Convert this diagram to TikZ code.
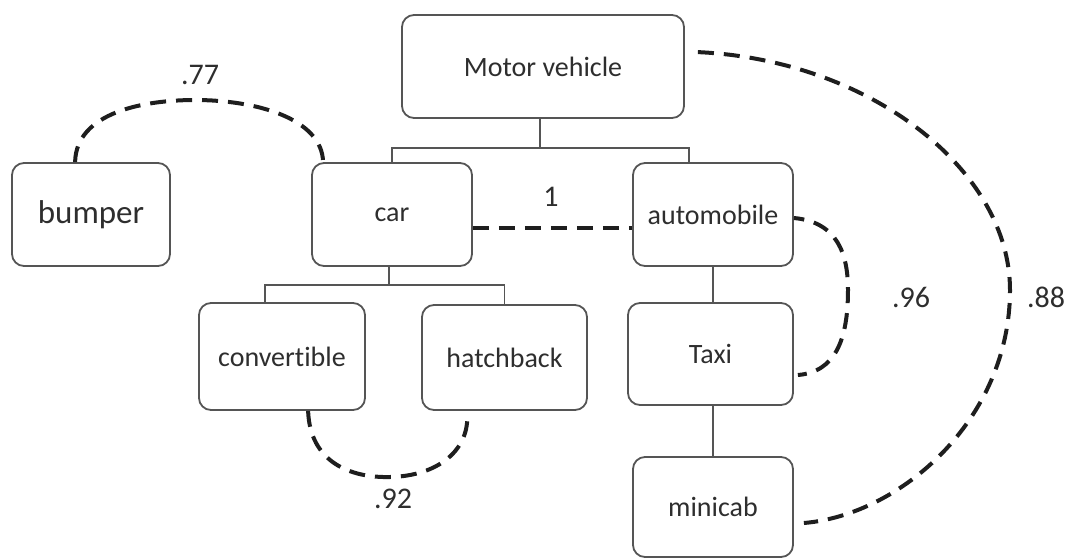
\documentclass[tikz,border=0pt]{standalone}
\usepackage{fontspec}
\setmainfont{Carlito}[Ligatures=NoCommon]
\usetikzlibrary{calc}
\definecolor{boxline}{HTML}{555555}
\definecolor{txt}{HTML}{2E2E2E}
\definecolor{simline}{HTML}{1E1E1E}
\begin{document}
\begin{tikzpicture}[x=1pt,y=-1pt,
  term/.style={draw=boxline, line width=1.8pt, rounded corners=12pt, inner sep=0pt,
    text=txt, font=\fontsize{28}{32}\selectfont},
  tree/.style={draw=boxline, line width=1.8pt},
  sim/.style={draw=simline, line width=4pt, dash pattern=on 16pt off 10pt},
  score/.style={text=txt, font=\fontsize{30}{34}\selectfont, inner sep=0pt}]
\useasboundingbox (0,0) rectangle (1071,558);

% concept boxes
\node[term, minimum width=282pt, minimum height=103pt] (mv) at (543,66.5) {Motor vehicle};
\node[term, minimum width=158pt, minimum height=103pt, font=\fontsize{33}{38}\selectfont] (bumper) at (91,214.5) {bumper};
\node[term, minimum width=160pt, minimum height=103pt] (car) at (392,214.5) {car};
\node[term, minimum width=160pt, minimum height=103pt] (auto) at (713,214.5) {automobile};
\node[term, minimum width=166pt, minimum height=107pt] (conv) at (282,356.5) {convertible};
\node[term, minimum width=165pt, minimum height=105pt] (hatch) at (504.5,357.5) {hatchback};
\node[term, minimum width=165pt, minimum height=102pt] (taxi) at (710.5,354) {Taxi};
\node[term, minimum width=160pt, minimum height=100pt] (minicab) at (713,507) {minicab};

% hierarchy
\coordinate (j1) at (540,148);
\coordinate (j2) at (389,285);
\draw[tree] (mv.south -| j1) -- (j1);
\draw[tree] (car.north) -- (car.north |- j1) -- ($(auto.north |- j1)+(-24,0)$) -- ($(auto.north)+(-24,0)$);
\draw[tree] (car.south -| j2) -- (j2);
\draw[tree] ($(conv.north)+(-17,0)$) -- ($(conv.north |- j2)+(-17,0)$) -- (hatch.north |- j2) -- (hatch.north);
\draw[tree] (auto.south) -- (auto.south |- taxi.north);
\draw[tree] (taxi.south -| minicab.north) -- (minicab.north);

% similarity links
\draw[sim] ($(bumper.north west)+(64,0)$) .. controls (76,112) and (145,100) .. (195,100)
  .. controls (255,100) and (322,118) .. ($(car.north west)+(12,0)$);
\draw[sim] ($(car.east)+(0,13.5)$) -- ($(auto.west)+(0,13.5)$);
\draw[sim] ($(conv.south west)+(110,0)$) .. controls (310,462) and (350,478) .. (390,477)
  .. controls (438,476) and (470,450) .. ($(hatch.south west)+(46,2)$);
\draw[sim, dash phase=7pt] ($(taxi.east)+(4,21)$) .. controls (835,372) and (848,340) .. (848,290)
  .. controls (848,255) and (838,222) .. ($(auto.east)+(0,3.5)$);
\draw[sim] ($(mv.north east)+(13,38)$) .. controls (870,60) and (1010,170) .. (1010,290)
  .. controls (1010,420) and (900,515) .. ($(minicab.east)+(10,16)$);

% similarity scores
\node[score] (s77) at (200,75) {.77};
\node[score] (s1) at (551,197) {1};
\node[score] (s92) at (393,499) {.92};
\node[score] (s96) at (911,297) {.96};
\node[score] (s88) at (1046,297) {.88};
\end{tikzpicture}
\end{document}
